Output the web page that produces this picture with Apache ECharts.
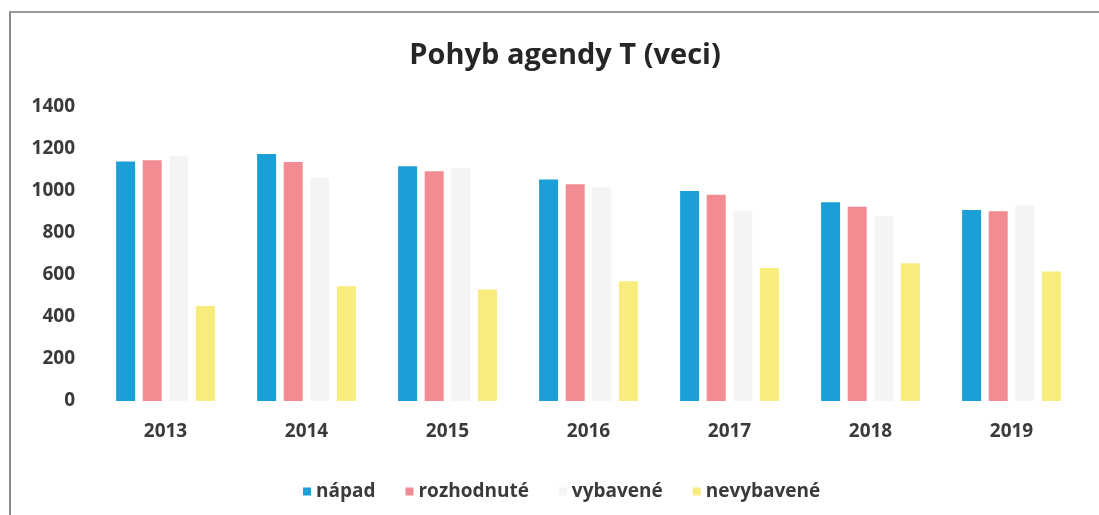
<!DOCTYPE html>
<html>
<head>
<meta charset="utf-8">
<script src="https://cdn.jsdelivr.net/npm/echarts@6/dist/echarts.min.js"></script>
<style>
  html, body { margin: 0; padding: 0; background: #fff; }
  #frame {
    position: absolute; left: 9px; top: 11px; width: 1100px; height: 510px;
    border-left: 2px solid #8a8a8a; border-top: 2px solid #9a9a9a;
  }
  #chart { position: absolute; left: 0; top: 0; width: 1099px; height: 515px; }
</style>
</head>
<body>
<div id="frame"></div>
<div id="chart"></div>
<script>
// roky
const years = ["2013", "2014", "2015", "2016", "2017", "2018", "2019"];
// hodnoty odčítané z obrázka
const napad = [1140, 1176, 1118, 1055, 1000, 946, 910];
const rozhodnute = [1146, 1138, 1094, 1032, 982, 925, 903];
const vybavene = [1165, 1062, 1110, 1018, 906, 880, 930];
const nevybavene = [452, 546, 531, 570, 633, 656, 617];
const seriesNames = ["nápad", "rozhodnuté", "vybavené", "nevybavené"];
const colors = ["#1a9fd6", "#f28b92", "#f4f4f4", "#f8ec7c"];

const font = "Open Sans";
const chart = echarts.init(document.getElementById("chart"));

const makeBar = (name, data, color) => ({
  name: name,
  type: "bar",
  data: data,
  barWidth: 19,
  barGap: "40%",
  itemStyle: { color: color },
});

chart.setOption({
  animation: false,
  textStyle: { fontFamily: font },
  title: {
    text: "Pohyb agendy T (veci)",
    left: 560,
    textAlign: "center",
    top: 36,
    textStyle: { fontSize: 29, fontWeight: "bold", color: "#262626", fontFamily: font },
  },
  legend: {
    top: 477,
    left: 298,
    data: seriesNames,
    itemWidth: 8,
    itemHeight: 8,
    itemGap: 30,
    icon: "rect",
    textStyle: { fontSize: 19, fontWeight: "bold", color: "#3a3a3a", fontFamily: font },
  },
  grid: { left: 95, right: 17, top: 107, bottom: 114 },
  xAxis: {
    type: "category",
    data: years,
    axisLine: { show: false },
    axisTick: { show: false },
    axisLabel: { fontSize: 19, fontWeight: "bold", color: "#3a3a3a", margin: 21 },
  },
  yAxis: {
    type: "value",
    min: 0,
    max: 1400,
    interval: 200,
    splitLine: { show: false },
    axisLine: { show: false },
    axisTick: { show: false },
    axisLabel: {
      fontSize: 19, fontWeight: "bold", color: "#3a3a3a", margin: 20,
      formatter: (v) => String(v),
    },
  },
  series: [
    makeBar(seriesNames[0], napad, colors[0]),
    makeBar(seriesNames[1], rozhodnute, colors[1]),
    makeBar(seriesNames[2], vybavene, colors[2]),
    makeBar(seriesNames[3], nevybavene, colors[3]),
  ],
});
</script>
</body>
</html>
